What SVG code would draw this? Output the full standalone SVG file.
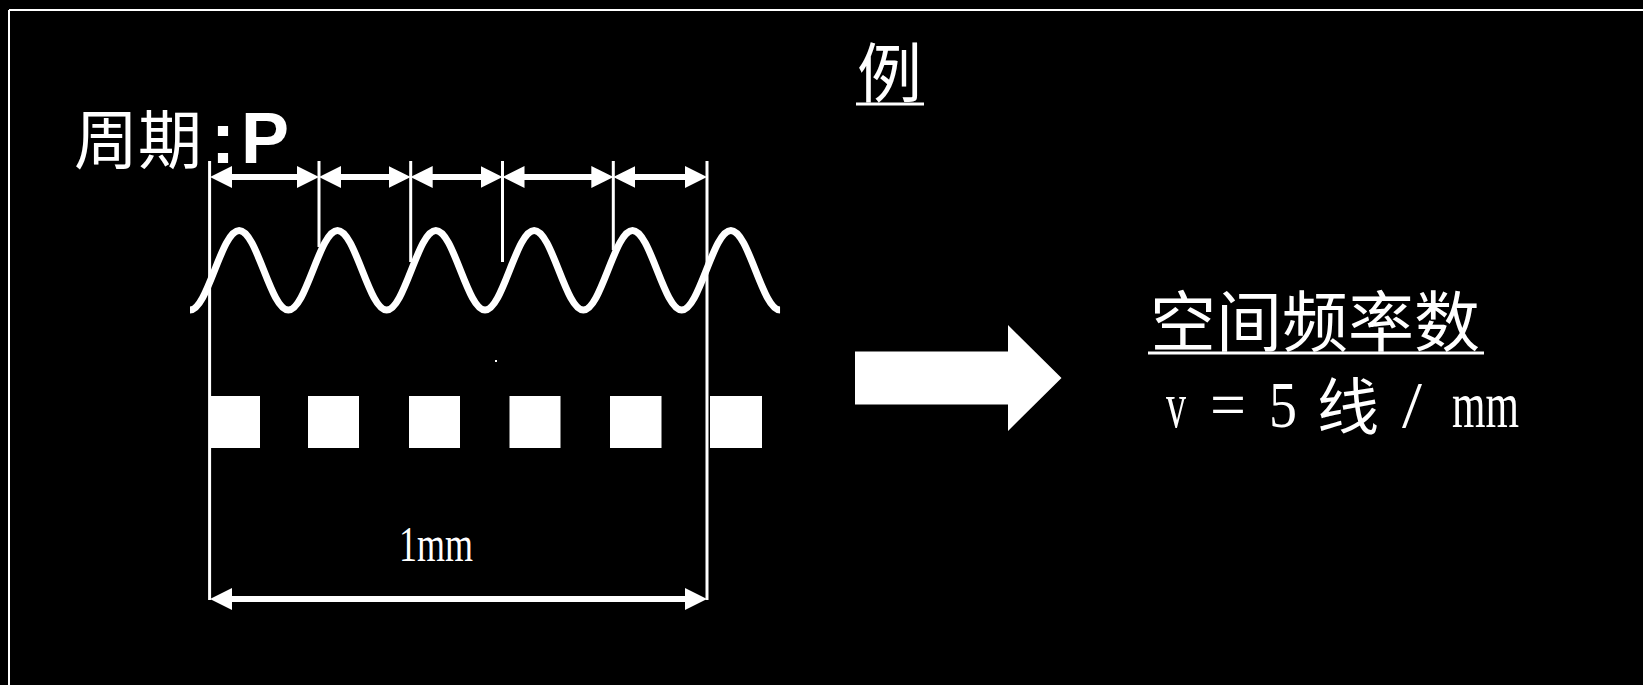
<svg xmlns="http://www.w3.org/2000/svg" width="1643" height="685" viewBox="0 0 1643 685">
  <defs>
    <marker id="ah" viewBox="0 0 22 22" markerUnits="userSpaceOnUse" markerWidth="22" markerHeight="22" refX="10" refY="11" orient="auto-start-reverse">
      <path d="M0,0 L22,11 L0,22 z" fill="#fff"/>
    </marker>
    <style>
      .dim { stroke: #fff; stroke-width: 6; fill: none; marker-start: url(#ah); marker-end: url(#ah); }
      .tick { stroke: #fff; stroke-width: 3; }
      .sq { fill: #fff; }
      .cjk { font-family: "Noto Sans CJK SC", "Noto Sans CJK JP", sans-serif; fill: #fff; }
      .ser { font-family: "Liberation Serif", "Noto Sans CJK SC", serif; fill: #fff; }
      .bold { font-family: "Liberation Sans", Arial, sans-serif; font-weight: bold; fill: #fff; }
      .ul { stroke: #fff; stroke-width: 3; }
    </style>
  </defs>
  <rect x="0" y="0" width="1643" height="685" fill="#000"/>
  <g id="border" stroke="#fff" stroke-width="2" fill="none">
    <line x1="9" y1="10" x2="1643" y2="10"/>
    <line x1="9" y1="10" x2="9" y2="685"/>
  </g>

  <g id="title">
    <text class="cjk" x="857" y="97" font-size="65">例</text>
    <line class="ul" x1="856" y1="104" x2="924" y2="104"/>
  </g>

  <g id="period-label">
    <text x="74" y="163"><tspan class="cjk" font-size="64">周期</tspan><tspan class="bold" x="211" font-size="72">:</tspan><tspan class="bold" x="241" font-size="72">P</tspan></text>
  </g>

  <g id="ticks">
    <line class="tick" x1="209.6" y1="161" x2="209.6" y2="600"/>
    <line class="tick" x1="319" y1="161" x2="319" y2="247"/>
    <line class="tick" x1="410.7" y1="161" x2="410.7" y2="262"/>
    <line class="tick" x1="502.5" y1="161" x2="502.5" y2="262"/>
    <line class="tick" x1="613.3" y1="161" x2="613.3" y2="250"/>
    <line class="tick" x1="707" y1="161" x2="707" y2="600"/>
  </g>

  <g id="wave">
    <path d="M190,310 c17.87,0 31.3,-79.5 49.17,-79.5 s31.3,79.5 49.17,79.5 s31.3,-79.5 49.17,-79.5 s31.3,79.5 49.17,79.5 s31.3,-79.5 49.17,-79.5 s31.3,79.5 49.17,79.5 s31.3,-79.5 49.17,-79.5 s31.3,79.5 49.17,79.5 s31.3,-79.5 49.17,-79.5 s31.3,79.5 49.17,79.5 s31.3,-79.5 49.17,-79.5 s31.3,79.5 49.17,79.5" fill="none" stroke="#fff" stroke-width="7"/>
  </g>

  <g id="grating">
    <rect class="sq" x="210" y="396" width="50" height="52"/>
    <rect class="sq" x="308" y="396" width="51" height="52"/>
    <rect class="sq" x="409" y="396" width="51" height="52"/>
    <rect class="sq" x="509.5" y="396" width="51" height="52"/>
    <rect class="sq" x="610" y="396" width="51.5" height="52"/>
    <rect class="sq" x="710" y="396" width="52" height="52"/>
    <rect class="sq" x="495" y="360" width="2" height="2"/>
  </g>

  <g id="connectors">
    <line class="dim" x1="222" y1="177" x2="307" y2="177"/>
    <line class="dim" x1="331" y1="177" x2="398.7" y2="177"/>
    <line class="dim" x1="422.7" y1="177" x2="490.5" y2="177"/>
    <line class="dim" x1="514.5" y1="177" x2="601.3" y2="177"/>
    <line class="dim" x1="625.3" y1="177" x2="695" y2="177"/>
    <line class="dim" x1="222" y1="599" x2="695" y2="599"/>
  </g>

  <g id="length-label">
    <text class="ser" x="399" y="561" font-size="50" textLength="74" lengthAdjust="spacingAndGlyphs">1mm</text>
  </g>

  <g id="big-arrow">
    <polygon points="855,351.5 1008,351.5 1008,325 1061.5,378 1008,431 1008,404.5 855,404.5" fill="#fff"/>
  </g>

  <g id="result">
    <text class="cjk" x="1150" y="346" font-size="66">空间频率数</text>
    <line class="ul" x1="1148" y1="353" x2="1484" y2="353"/>
    <text y="427" font-size="66"><tspan class="ser" x="1166" textLength="20" lengthAdjust="spacingAndGlyphs">v</tspan><tspan class="ser"> </tspan><tspan class="ser" x="1210" textLength="36" lengthAdjust="spacingAndGlyphs">=</tspan><tspan class="ser"> </tspan><tspan class="ser" x="1269" textLength="28" lengthAdjust="spacingAndGlyphs">5</tspan><tspan class="ser"> </tspan><tspan class="cjk" x="1317" y="430" font-size="62">线</tspan><tspan class="ser"> </tspan><tspan class="ser" x="1402" y="427" textLength="20" lengthAdjust="spacingAndGlyphs">/</tspan><tspan class="ser"> </tspan><tspan class="ser" x="1452" textLength="67" lengthAdjust="spacingAndGlyphs">mm</tspan></text>
  </g>
</svg>
